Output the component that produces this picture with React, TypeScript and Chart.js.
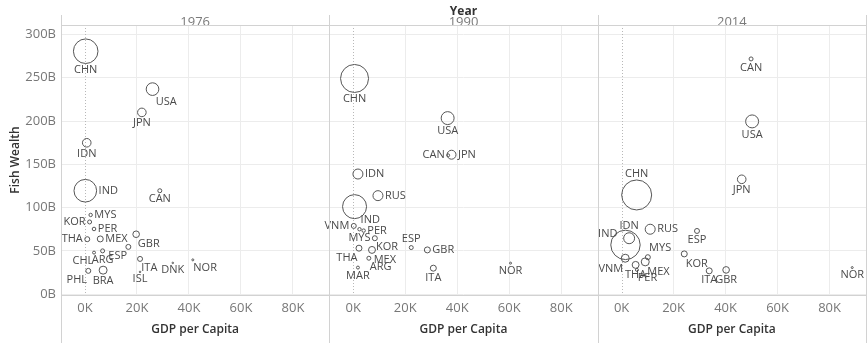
import React, { useEffect, useRef } from 'react';
import { Chart, registerables } from 'chart.js';

Chart.register(...registerables);

// ---------- data ----------
const years = ['1976', '1990', '2014'];
const xTicks = [0, 20000, 40000, 60000, 80000];
const yTicks = [0, 50, 100, 150, 200, 250, 300];

const countries1976 = ['CHN', 'USA', 'JPN', 'IDN', 'IND', 'CAN', 'MYS', 'KOR', 'PER', 'THA', 'MEX', 'GBR', 'ESP', 'ITA', 'CHL', 'ARG', 'PHL', 'BRA', 'ISL', 'DNK', 'NOR'];
const gdp1976 = [300, 26000, 21900, 700, 150, 28800, 2200, 1800, 3500, 900, 5900, 19700, 16700, 21200, 3500, 6800, 1300, 7000, 21200, 33800, 41500];
const wealth1976 = [280.7, 236.9, 210, 174.9, 119.5, 119.5, 91.5, 83.4, 75.3, 63.5, 63.8, 69.2, 54.6, 40.7, 48, 50, 26.9, 27.7, 25.7, 36.1, 39.6];
const size1976 = [151, 40, 18.5, 18.5, 128, 4, 2.9, 4, 3.2, 6.2, 9, 10.9, 6.2, 6.2, 2.2, 4, 6.2, 16, 0.6, 0.6, 1];

const countries1990 = ['CHN', 'USA', 'JPN', 'CAN', 'IDN', 'RUS', 'IND', 'VNM', 'MYS', 'PER', 'KOR', 'THA', 'MEX', 'ARG', 'MAR', 'ESP', 'GBR', 'ITA', 'NOR'];
const gdp1990 = [500, 36300, 37800, 36500, 1800, 9500, 500, 200, 2400, 4000, 8300, 2200, 7200, 6000, 1800, 22300, 28500, 30800, 60500];
const wealth1990 = [249.2, 203.4, 161.1, 160.4, 138.8, 113.8, 101.1, 78.8, 75, 73.4, 64.6, 53.1, 51.1, 41.5, 30.7, 53.8, 51.1, 30, 35.8];
const size1990 = [196, 42, 20, 2.2, 25, 25, 144, 6.2, 2.9, 2.9, 6.2, 9, 12, 4, 2.2, 4, 9, 9, 1];

const countries2014 = ['CAN', 'USA', 'CHN', 'JPN', 'IND', 'IDN', 'RUS', 'MYS', 'MEX', 'VNM', 'THA', 'PER', 'ESP', 'KOR', 'ITA', 'GBR', 'NOR'];
const gdp2014 = [49800, 50200, 5800, 46200, 1500, 2900, 11000, 10100, 9100, 1400, 5400, 5900, 29000, 24100, 33700, 40200, 88700];
const wealth2014 = [271.8, 199.6, 114.6, 132.7, 56.9, 64.6, 75, 42.7, 37.3, 41.5, 33.8, 28, 73, 46.5, 26.9, 28, 30.7];
const size2014 = [4, 42, 225, 18.5, 216, 30, 25, 6.2, 16, 16, 12, 2.2, 6.2, 9, 9, 11, 1];

// label placement (style) per year
const place1976: Record<string, string> = { CHN: 'b', USA: 'br', JPN: 'b', IDN: 'b', IND: 'r', CAN: 'b', MYS: 'r', KOR: 'l', PER: 'r', THA: 'l', MEX: 'r', GBR: 'br', ESP: 'bl', ITA: 'br', CHL: 'bl', ARG: 'b', PHL: 'bl', BRA: 'b', ISL: 'b', DNK: 'b', NOR: 'br' };
const place1990: Record<string, string> = { CHN: 'b', USA: 'b', JPN: 'r', CAN: 'l', IDN: 'r', RUS: 'r', IND: 'dr', VNM: 'l', MYS: 'b', PER: 'r', KOR: 'br', THA: 'bl', MEX: 'br', ARG: 'br', MAR: 'b', ESP: 'a', GBR: 'r', ITA: 'b', NOR: 'b' };
const place2014: Record<string, string> = { CAN: 'b', USA: 'b', CHN: 'a', JPN: 'b', IND: 'ul', IDN: 'a', RUS: 'r', MYS: 'ar', MEX: 'br', VNM: 'bl', THA: 'b', PER: 'br', ESP: 'b', KOR: 'br', ITA: 'b', GBR: 'b', NOR: 'b' };

const panels = [
  { year: years[0], countries: countries1976, gdp: gdp1976, wealth: wealth1976, size: size1976, place: place1976 },
  { year: years[1], countries: countries1990, gdp: gdp1990, wealth: wealth1990, size: size1990, place: place1990 },
  { year: years[2], countries: countries2014, gdp: gdp2014, wealth: wealth2014, size: size2014, place: place2014 },
];

const FONT = '"Open Sans", "Noto Sans", sans-serif';
const FRAME = '#d2d2d2';

const framePlugin = {
  id: 'tableauFrame',
  beforeDatasetsDraw(chart: any) {
    const ctx = chart.ctx;
    const area = chart.chartArea;
    ctx.save();
    ctx.strokeStyle = '#b8b8b8';
    ctx.lineWidth = 1;
    ctx.setLineDash([1, 2]);
    years.forEach((y) => {
      const sc = chart.scales['x' + y];
      const px = Math.round(sc.getPixelForValue(0)) + 0.5;
      ctx.beginPath();
      ctx.moveTo(px, area.top);
      ctx.lineTo(px, area.bottom);
      ctx.stroke();
    });
    ctx.restore();
  },
  afterDatasetsDraw(chart: any) {
    const ctx = chart.ctx;
    ctx.save();
    ctx.font = `11px ${FONT}`;
    ctx.fillStyle = '#4a4a4a';
    chart.data.datasets.forEach((ds: any, di: number) => {
      const meta = chart.getDatasetMeta(di);
      meta.data.forEach((el: any, i: number) => {
        const name = ds.countryCodes[i];
        const code = ds.placement[name] || 'r';
        const r = ds.data[i].r;
        const x = el.x;
        const y = el.y;
        let tx = x, ty = y, align: CanvasTextAlign = 'left', base: CanvasTextBaseline = 'middle';
        switch (code) {
          case 'r': tx = x + r + 2; ty = y; align = 'left'; base = 'middle'; break;
          case 'l': tx = x - r - 2; ty = y; align = 'right'; base = 'middle'; break;
          case 'b': tx = x; ty = y + r + 1; align = 'center'; base = 'top'; break;
          case 'a': tx = x; ty = y - r - 1; align = 'center'; base = 'bottom'; break;
          case 'br': tx = x + r * 0.5; ty = y + r + 1; align = 'left'; base = 'top'; break;
          case 'bl': tx = x - r * 0.5; ty = y + r + 1; align = 'right'; base = 'top'; break;
          case 'ar': tx = x + r * 0.5; ty = y - r - 1; align = 'left'; base = 'bottom'; break;
          case 'al': tx = x - r * 0.5; ty = y - r - 1; align = 'right'; base = 'bottom'; break;
          case 'dr': tx = x + r * 0.5; ty = y + r * 0.7 - 1; align = 'left'; base = 'top'; break;
          case 'ul': tx = x - r * 0.55; ty = y - r * 0.75; align = 'right'; base = 'middle'; break;
        }
        ctx.textAlign = align;
        ctx.textBaseline = base;
        ctx.fillText(name, tx, ty);
      });
    });
    ctx.restore();
  },
  afterDraw(chart: any) {
    const ctx = chart.ctx;
    const area = chart.chartArea;
    ctx.save();
    ctx.textAlign = 'center';
    ctx.textBaseline = 'alphabetic';
    ctx.font = `13px ${FONT}`;
    ctx.fillStyle = '#7a7a7a';
    years.forEach((y) => {
      const sc = chart.scales['x' + y];
      ctx.fillText(y, (sc.left + sc.right) / 2, area.top + 0.5);
    });
    const mid = chart.scales['x' + years[1]];
    ctx.font = `bold 12px ${FONT}`;
    ctx.fillStyle = '#333';
    ctx.fillText('Year', (mid.left + mid.right) / 2, 15);
    ctx.strokeStyle = FRAME;
    ctx.lineWidth = 1;
    ctx.beginPath();
    ctx.moveTo(area.left, Math.round(area.top) + 0.5);
    ctx.lineTo(area.right, Math.round(area.top) + 0.5);
    const xs: number[] = [];
    years.forEach((y) => xs.push(chart.scales['x' + y].left));
    xs.push(chart.scales['x' + years[2]].right);
    xs.forEach((x) => {
      const px = Math.min(Math.round(x), chart.width - 1) + 0.5;
      ctx.moveTo(px, 15);
      ctx.lineTo(px, chart.height);
    });
    ctx.stroke();
    ctx.restore();
  },
};

export default function App() {
  const ref = useRef<HTMLCanvasElement | null>(null);

  useEffect(() => {
    document.body.style.margin = '0';
    if (!ref.current) return;

    const scales: any = {
      y: {
        type: 'linear',
        position: 'left',
        min: -1,
        max: 311,
        afterBuildTicks: (s: any) => { s.ticks = yTicks.map((v) => ({ value: v })); },
        afterFit: (s: any) => { s.width = 61; s.paddingTop = 0; s.paddingBottom = 0; },
        ticks: {
          callback: (v: any) => `${v}B`,
          color: '#777',
          font: { family: FONT, size: 13 },
          padding: 5,
        },
        grid: { color: '#ececec', drawTicks: false },
        border: { display: false },
        title: {
          display: true,
          text: 'Fish Wealth',
          color: '#333',
          font: { family: FONT, size: 12, weight: '600' },
          padding: { top: 8, bottom: 0 },
        },
      },
    };
    years.forEach((y) => {
      scales['x' + y] = {
        type: 'linear',
        position: 'bottom',
        stack: 'panels',
        stackWeight: 1,
        min: -9200,
        max: 94000,
        afterBuildTicks: (s: any) => { s.ticks = xTicks.map((v) => ({ value: v })); },
        afterFit: (s: any) => { s.height = 48; s.paddingLeft = 0; s.paddingRight = 0; },
        ticks: {
          callback: (v: any) => `${v / 1000}K`,
          color: '#777',
          font: { family: FONT, size: 13 },
          padding: 5,
          autoSkip: false,
          maxRotation: 0,
        },
        grid: {
          color: (c: any) => (c.tick && c.tick.value === 0 ? 'rgba(0,0,0,0)' : '#ececec'),
          drawTicks: false,
        },
        border: { display: true, color: FRAME },
        title: {
          display: true,
          text: 'GDP per Capita',
          color: '#333',
          font: { family: FONT, size: 12, weight: '600' },
          padding: { top: 0, bottom: 6 },
        },
      };
    });

    const datasets = panels.map((p) => ({
      type: 'bubble',
      label: p.year,
      xAxisID: 'x' + p.year,
      yAxisID: 'y',
      countryCodes: p.countries,
      placement: p.place,
      data: p.countries.map((_, i) => ({ x: p.gdp[i], y: p.wealth[i], r: Math.sqrt(p.size[i]) })),
      borderColor: '#555',
      backgroundColor: 'rgba(255,255,255,0)',
      borderWidth: 1,
    }));

    const chart = new Chart(ref.current, {
      type: 'bubble',
      data: { datasets } as any,
      options: {
        animation: false,
        responsive: true,
        maintainAspectRatio: false,
        layout: { autoPadding: false, padding: { top: 25, right: 1, left: 0, bottom: 0 } },
        plugins: { legend: { display: false }, tooltip: { enabled: false } },
        scales,
      } as any,
      plugins: [framePlugin],
    });
    return () => chart.destroy();
  }, []);

  return (
    <div style={{ position: 'relative', width: 867, height: 343, background: '#fff' }}>
      <canvas ref={ref} />
    </div>
  );
}
